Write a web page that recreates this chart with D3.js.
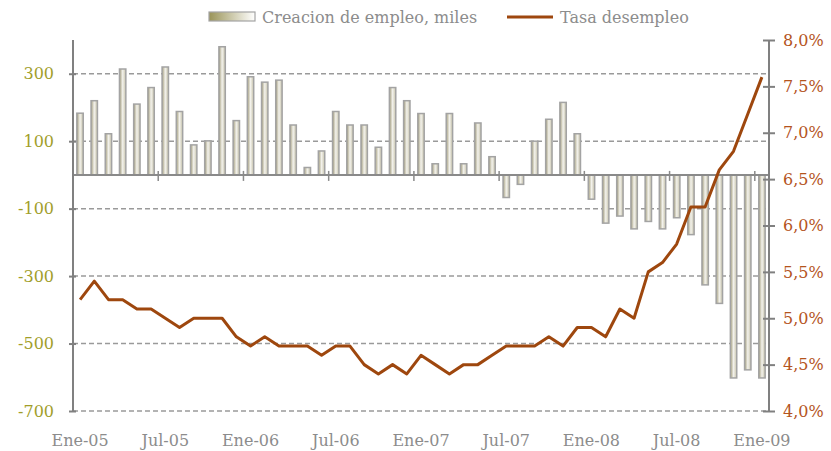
<!DOCTYPE html>
<html>
<head>
<meta charset="utf-8">
<script src="https://cdn.jsdelivr.net/npm/d3@7"></script>
<style>
body { margin:0; background:#fff; }
text { font-family:"DejaVu Serif", serif; }
</style>
</head>
<body>
<svg width="831" height="451"></svg>
<script>
// meses y años de la serie
var meses = ["Ene","Feb","Mar","Abr","May","Jun","Jul","Ago","Sep","Oct","Nov","Dic"];
var anios = ["05","06","07","08","09"];

// creacion de empleo, miles (ene-05 .. ene-09)
var empleo = [183,220,122,314,210,259,320,188,89,101,380,161,
	291,275,281,148,22,71,188,148,148,82,259,220,
	182,33,182,33,154,54,-67,-28,100,165,215,122,
	-72,-143,-122,-160,-138,-160,-127,-177,-326,-381,-602,-578,
	-602];

// tasa de desempleo, %
var tasa = [5.2,5.4,5.2,5.2,5.1,5.1,5.0,4.9,5.0,5.0,5.0,4.8,
	4.7,4.8,4.7,4.7,4.7,4.6,4.7,4.7,4.5,4.4,4.5,4.4,
	4.6,4.5,4.4,4.5,4.5,4.6,4.7,4.7,4.7,4.8,4.7,4.9,
	4.9,4.8,5.1,5.0,5.5,5.6,5.8,6.2,6.2,6.6,6.8,7.2,
	7.6];

var leftTicks = [300,100,-100,-300,-500,-700];
var rightTicks = [4.0,4.5,5.0,5.5,6.0,6.5,7.0,7.5,8.0];

var categorias = [];
anios.forEach(function(a){
	meses.forEach(function(m){ categorias.push(m+"-"+a); });
});
categorias = categorias.slice(0, empleo.length);

var xIzq = 73, xDer = 769, yArr = 40, yAba = 411;

var x = d3.scaleBand().domain(categorias).range([xIzq, xDer]).paddingInner(0.55).paddingOuter(0.27);
var xb = d3.scaleBand().domain(categorias).range([xIzq, xDer]);
var y = d3.scaleLinear().domain([-700, 400]).range([yAba, yArr]);
var y2 = d3.scaleLinear().domain([4.0, 8.0]).range([yAba, yArr]);

var svg = d3.select("svg");

var defs = svg.append("defs");
var grad = defs.append("linearGradient")
	.attr("id","barra").attr("x1","0").attr("x2","1").attr("y1","0").attr("y2","0");
grad.append("stop").attr("offset","0%").attr("stop-color","#a39d7c");
grad.append("stop").attr("offset","50%").attr("stop-color","#f3f2ec");
grad.append("stop").attr("offset","100%").attr("stop-color","#c6c2aa");

var gradL = defs.append("linearGradient")
	.attr("id","leyenda").attr("x1","0").attr("x2","1");
gradL.append("stop").attr("offset","0%").attr("stop-color","#9a9458");
gradL.append("stop").attr("offset","100%").attr("stop-color","#ffffff");

// rejilla
svg.append("g").selectAll("line").data(leftTicks).enter().append("line")
	.attr("x1", xIzq).attr("x2", xDer)
	.attr("y1", function(d){ return y(d); }).attr("y2", function(d){ return y(d); })
	.attr("stroke", "#9a9a9a").attr("stroke-width", 1.5).attr("stroke-dasharray", "5,3");

// barras
svg.append("g").selectAll("rect").data(empleo).enter().append("rect")
	.attr("x", function(d,i){ return x(categorias[i]); })
	.attr("width", x.bandwidth())
	.attr("y", function(d){ return d > 0 ? y(d) : y(0); })
	.attr("height", function(d){ return Math.abs(y(d) - y(0)); })
	.attr("fill", "url(#barra)")
	.attr("stroke", "#a3a3a3").attr("stroke-width", 1.5);

// eje cero
svg.append("line").attr("x1", xIzq).attr("x2", xDer).attr("y1", y(0)).attr("y2", y(0))
	.attr("stroke", "#8a8a8a").attr("stroke-width", 2);
svg.append("g").selectAll("line").data(categorias.filter(function(d,i){ return i > 0 && i % 6 == 0; }))
	.enter().append("line")
	.attr("x1", function(d){ return xb(d); }).attr("x2", function(d){ return xb(d); })
	.attr("y1", y(0) - 4).attr("y2", y(0) + 6)
	.attr("stroke", "#8a8a8a").attr("stroke-width", 1.5);

// etiquetas x
svg.append("g").selectAll("text").data(categorias.filter(function(d,i){ return i % 6 == 0; }))
	.enter().append("text")
	.attr("x", function(d){ return xb(d) + xb.bandwidth()/2; })
	.attr("y", 446)
	.attr("text-anchor", "middle")
	.attr("font-size", 16).attr("fill", "#8c8c8c")
	.text(function(d){ return d; });

// eje izquierdo
var ejeIzq = d3.axisLeft(y).tickValues(leftTicks).tickSize(5).tickPadding(14);
var gl = svg.append("g").attr("transform", "translate("+xIzq+",0)").call(ejeIzq);
gl.select(".domain").attr("stroke", "#808080").attr("stroke-width", 2).attr("d", "M0,"+yArr+"V"+yAba);
gl.selectAll(".tick line").attr("stroke", "#808080").attr("stroke-width", 2).attr("x2", -4).attr("x1", 3);
gl.selectAll(".tick text").attr("font-size", 16).attr("fill", "#a19e2a")
	.attr("font-family", "DejaVu Serif")
	.text(function(d){ return d; });

// eje derecho
var ejeDer = d3.axisRight(y2).tickValues(rightTicks).tickSize(6).tickPadding(8);
var gr = svg.append("g").attr("transform", "translate("+xDer+",0)").call(ejeDer);
gr.select(".domain").attr("stroke", "#808080").attr("stroke-width", 2).attr("d", "M0,"+yArr+"V"+yAba);
gr.selectAll(".tick line").attr("stroke", "#808080").attr("stroke-width", 2).attr("x1", -6);
gr.selectAll(".tick text").attr("font-size", 16).attr("fill", "#b4541d")
	.attr("font-family", "DejaVu Serif")
	.text(function(d){ return d3.format(".1f")(d).replace(".", ",") + "%"; });

// linea tasa
var linea = d3.line()
	.x(function(d,i){ return xb(categorias[i]) + xb.bandwidth()/2; })
	.y(function(d){ return y2(d); });
svg.append("path").datum(tasa)
	.attr("d", linea)
	.attr("fill", "none").attr("stroke", "#9e470e").attr("stroke-width", 3)
	.attr("stroke-linejoin", "round");

// leyenda
var ley = svg.append("g");
ley.append("rect").attr("x", 209).attr("y", 12).attr("width", 46).attr("height", 9)
	.attr("fill", "url(#leyenda)").attr("stroke", "#a3a3a3").attr("stroke-width", 1.2);
ley.append("text").attr("x", 262).attr("y", 23).attr("font-size", 16).attr("fill", "#8c8c8c")
	.text("Creacion de empleo,  miles");
ley.append("line").attr("x1", 507).attr("x2", 553).attr("y1", 17).attr("y2", 17)
	.attr("stroke", "#9e470e").attr("stroke-width", 3);
ley.append("text").attr("x", 560).attr("y", 23).attr("font-size", 16).attr("fill", "#8c8c8c")
	.text("Tasa desempleo");
</script>
</body>
</html>
